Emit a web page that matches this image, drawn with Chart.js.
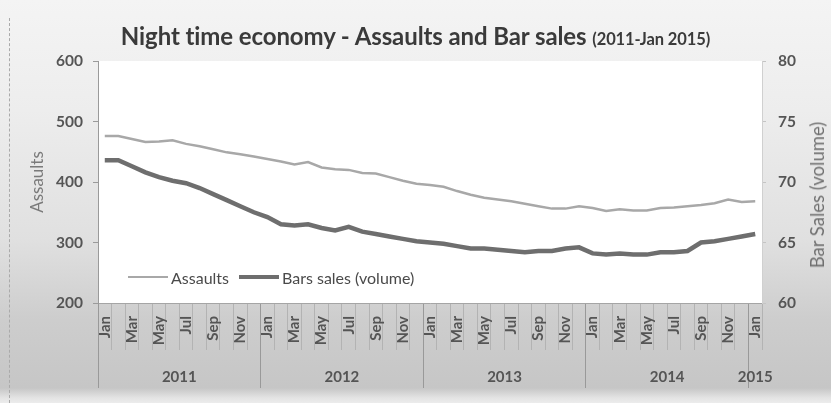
<!DOCTYPE html>
<html>
<head>
<meta charset="utf-8">
<script src="https://cdn.jsdelivr.net/npm/chart.js@4.4.0/dist/chart.umd.min.js"></script>
<style>
html,body{margin:0;padding:0;}
body{width:831px;height:403px;overflow:hidden;position:relative;font-family:Lato,"Open Sans",sans-serif;
  background:linear-gradient(to bottom,#f4f4f4 0px,#ededed 110px,#e0e0e0 240px,#cdcdcd 320px,#c6c6c6 388px,#e4e4e4 398px,#ececec 403px);}
#chart{position:absolute;left:0;top:0;}
#title{position:absolute;left:0;top:21px;width:831px;text-align:center;color:#3a3a3a;font-weight:700;font-size:24px;line-height:30px;white-space:nowrap;letter-spacing:-0.1px;}
#title .sub{font-size:16.5px;}
#legend{position:absolute;left:128px;top:267px;height:20px;display:flex;align-items:center;font-size:16px;color:#4a4a4a;white-space:nowrap;}
#legend .sw{display:inline-block;width:40px;margin-right:3px;}
#legend .item{display:flex;align-items:center;margin-right:10px;}
#rtitle{position:absolute;left:817px;top:195px;transform:translate(-50%,-50%) rotate(-90deg);font-size:18.5px;color:#707070;white-space:nowrap;}
#edge{position:absolute;left:9px;top:18px;height:385px;border-left:1px dashed #aaa;}
</style>
</head>
<body>
<div id="edge"></div>
<canvas id="chart" width="831" height="403"></canvas>
<div id="title">Night time economy - Assaults and Bar sales <span class="sub">(2011-Jan 2015)</span></div>
<div id="legend">
  <span class="item"><span class="sw" style="height:2.5px;background:#a8a8a8"></span>Assaults</span>
  <span class="item"><span class="sw" style="height:4.5px;background:#6e6e6e"></span>Bars sales (volume)</span>
</div>
<div id="rtitle">Bar Sales (volume)</div>
<script>
// ---- data ----
const months = [
  'Jan','Feb','Mar','Apr','May','Jun','Jul','Aug','Sep','Oct','Nov','Dec',
  'Jan','Feb','Mar','Apr','May','Jun','Jul','Aug','Sep','Oct','Nov','Dec',
  'Jan','Feb','Mar','Apr','May','Jun','Jul','Aug','Sep','Oct','Nov','Dec',
  'Jan','Feb','Mar','Apr','May','Jun','Jul','Aug','Sep','Oct','Nov','Dec',
  'Jan'
];
const years = ['2011','2012','2013','2014','2015'];
const assaults = [
  476,476,471,466,467,469,463,459,454,449,446,442,
  438,434,429,433,424,421,420,415,414,408,402,397,
  395,392,385,379,374,371,368,364,360,356,356,360,
  357,352,355,353,353,357,358,360,362,365,371,367,
  368
];
const barSales = [
  71.8,71.8,71.3,70.8,70.4,70.1,69.9,69.5,69.0,68.5,68.0,67.5,
  67.1,66.5,66.4,66.5,66.2,66.0,66.3,65.9,65.7,65.5,65.3,65.1,
  65.0,64.9,64.7,64.5,64.5,64.4,64.3,64.2,64.3,64.3,64.5,64.6,
  64.1,64.0,64.1,64.0,64.0,64.2,64.2,64.3,65.0,65.1,65.3,65.5,
  65.7
];
const assaultTicks = [200,300,400,500,600];
const salesTicks = [60,65,70,75,80];

// ---- year grouping derived from categories ----
const starts = [];
months.forEach((m,i)=>{ if(m==='Jan') starts.push(i); });
const edges = starts.map(s=>s-0.5);
const mids = starts.map((s,k)=>{ const end = (k+1<starts.length? starts[k+1]-1 : months.length-1); return (s+end)/2; });

const FONT = 'Lato, "Open Sans", sans-serif';

const plotBg = {
  id:'plotBg',
  beforeDraw(chart){
    const {ctx, chartArea:a} = chart;
    ctx.save(); ctx.fillStyle='#ffffff';
    ctx.fillRect(a.left, a.top, a.right-a.left, a.bottom-a.top);
    ctx.restore();
  }
};

new Chart(document.getElementById('chart'), {
  type:'line',
  data:{
    labels: months,
    datasets:[
      {label:'Assaults', data:assaults, yAxisID:'y', xAxisID:'x', borderColor:'#a8a8a8', borderWidth:2.5, pointRadius:0, tension:0, fill:false},
      {label:'Bars sales (volume)', data:barSales, yAxisID:'y1', xAxisID:'x', borderColor:'#6e6e6e', borderWidth:4.5, pointRadius:0, tension:0, fill:false}
    ]
  },
  options:{
    responsive:false,
    animation:false,
    layout:{padding:{left:24,right:0,top:61,bottom:8}},
    plugins:{legend:{display:false}, title:{display:false}, tooltip:{enabled:false}},
    scales:{
      x:{
        type:'category', position:'bottom', offset:true,
        grid:{offset:true, drawOnChartArea:false, drawTicks:true, tickLength:47,
          color:(c)=> (c.index % 12 === 0 ? '#999999' : '#b3b3b3'), lineWidth:1},
        border:{display:true, color:'#a5a5a5'},
        ticks:{autoSkip:false, minRotation:90, maxRotation:90, padding:-34,
          font:{family:FONT, size:15, weight:'bold'}, color:'#555555',
          callback:(v,i)=> (i % 2 === 0 ? months[i] : '')},
        afterFit:(a)=>{ a.height = 47; }
      },
      x2:{
        type:'linear', position:'bottom', min:-0.5, max:months.length-0.5,
        afterBuildTicks:(a)=>{ a.ticks = edges.concat(mids).sort((p,q)=>p-q).map(v=>({value:v})); },
        grid:{drawOnChartArea:false, drawTicks:true, tickLength:38,
          color:(c)=> (c.tick && edges.includes(c.tick.value) ? '#999999' : 'rgba(0,0,0,0)'), lineWidth:1},
        border:{display:false},
        ticks:{autoSkip:false, minRotation:0, maxRotation:0, padding:-20,
          font:{family:FONT, size:15, weight:'bold'}, color:'#555555',
          callback:(v)=>{ const k = mids.indexOf(v); return k>=0 ? years[k] : ''; }},
        afterFit:(a)=>{ a.height = 45; }
      },
      y:{
        position:'left', min:200, max:600,
        afterBuildTicks:(a)=>{ a.ticks = assaultTicks.map(v=>({value:v})); },
        grid:{drawOnChartArea:false, drawTicks:true, tickLength:5, color:'#9a9a9a'},
        border:{display:true, color:'#9a9a9a'},
        ticks:{padding:10, font:{family:FONT, size:15.5, weight:'bold'}, color:'#555555'},
        title:{display:true, text:'Assaults', color:'#7a7a7a', font:{family:FONT, size:17}, padding:{top:3,bottom:0}},
        afterFit:(a)=>{ a.width = 74; }
      },
      y1:{
        position:'right', min:60, max:80,
        afterBuildTicks:(a)=>{ a.ticks = salesTicks.map(v=>({value:v})); },
        grid:{drawOnChartArea:false, drawTicks:true, tickLength:4, color:'#c4c4c4'},
        border:{display:true, color:'#d0d0d0'},
        ticks:{padding:12, font:{family:FONT, size:15.5, weight:'bold'}, color:'#555555'},
        afterFit:(a)=>{ a.width = 69; }
      }
    }
  },
  plugins:[plotBg]
});
</script>
</body>
</html>
